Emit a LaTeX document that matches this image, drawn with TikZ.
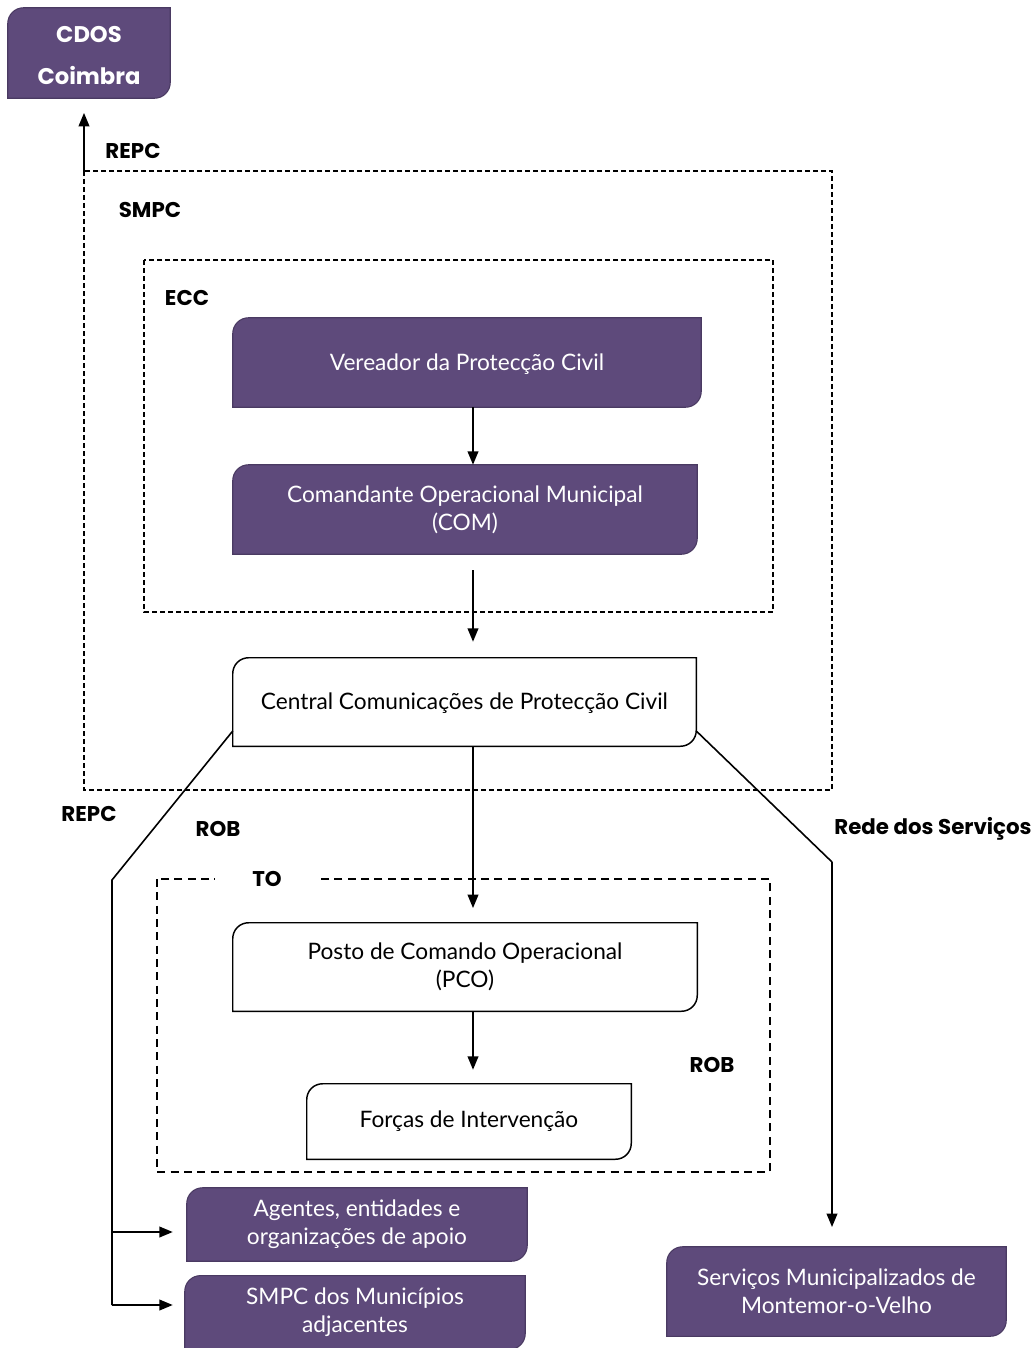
\documentclass[tikz,border=0pt]{standalone}
\usepackage{fontspec}
\setmainfont{Lato}
\newfontfamily\lblfont{Poppins}
\usetikzlibrary{arrows.meta,calc}
\definecolor{boxpurple}{HTML}{5E4A7B}
\definecolor{boxedge}{HTML}{4A3A62}
\tikzset{
  boxtext/.style={inner sep=0pt, align=center, font=\fontsize{17}{21}\selectfont},
  ptext/.style={boxtext, text=white},
  lbl/.style={font=\lblfont\bfseries\fontsize{16}{19}\selectfont, inner sep=1pt},
  frame/.style={draw, dash pattern=on 3.75pt off 2.25pt, line width=0.9pt},
  frameto/.style={draw, dash pattern=on 6pt off 4pt, line width=0.9pt},
  conn/.style={line width=1.2pt},
  arr/.style={conn, -{Triangle[length=10pt,width=8pt]}},
  snipfill/.style={fill=boxpurple, draw=boxedge, line width=0.8pt},
  snipwhite/.style={fill=white, draw=black, line width=1.1pt},
}
% x and y are in pixels, y growing downwards
\newcommand\snipshape[2]{%
  \path[#2] (#1.south west) -- ($(#1.north west)+(0,16)$)
    .. controls ($(#1.north west)+(0,7)$) and ($(#1.north west)+(7,0)$) .. ($(#1.north west)+(16,0)$)
    -- (#1.north east) -- ($(#1.south east)+(0,-16)$)
    .. controls ($(#1.south east)+(0,-7)$) and ($(#1.south east)+(-7,0)$) .. ($(#1.south east)+(-16,0)$) -- cycle;}
\begin{document}
\begin{tikzpicture}[x=0.75pt,y=-0.75pt]
\useasboundingbox (0,0) rectangle (1035,1348);
% dashed frames
\path[frame] (84,171) rectangle (832,790);
\path[frame] (144,260) rectangle (773,612);
\path[frameto] (157,879) rectangle (770,1172);
\coordinate (smpcTL) at (84,171);
\coordinate (cx) at (473,0);
% nodes (text), shapes drawn beneath
\node[minimum width=121.5pt, minimum height=67.5pt, inner sep=0pt] (cdos) at (89,53) {};
\node[minimum width=351pt, minimum height=66.75pt, inner sep=0pt] (ver) at (467,362.5) {};
\node[minimum width=348pt, minimum height=66.75pt, inner sep=0pt] (com) at (465,509.5) {};
\node[minimum width=347.25pt, minimum height=66pt, inner sep=0pt] (cen) at (464.5,702) {};
\node[minimum width=348pt, minimum height=66pt, inner sep=0pt] (pco) at (465,967) {};
\node[minimum width=243pt, minimum height=56.25pt, inner sep=0pt] (for) at (469,1121.5) {};
\node[minimum width=255pt, minimum height=54.75pt, inner sep=0pt] (age) at (357,1224.5) {};
\node[minimum width=255pt, minimum height=55pt, inner sep=0pt] (adj) at (355,1312.5) {};
\node[minimum width=254.25pt, minimum height=66.75pt, inner sep=0pt] (ser) at (836.5,1291.5) {};
\snipshape{cdos}{snipfill}
\snipshape{ver}{snipfill}
\snipshape{com}{snipfill}
\snipshape{cen}{snipwhite}
\snipshape{pco}{snipwhite}
\snipshape{for}{snipwhite}
\snipshape{age}{snipfill}
\snipshape{adj}{snipfill}
\snipshape{ser}{snipfill}
% texts
\node[lbl, text=white, align=center, font=\lblfont\bfseries\fontsize{17}{20}\selectfont] at ([yshift=-2pt]cdos.center) {CDOS\\[12pt]Coimbra};
\node[ptext] at ([yshift=-1pt]ver.center) {Vereador da Protecção Civil};
\node[ptext] at (com.center) {Comandante Operacional Municipal\\(COM)};
\node[boxtext] at ([yshift=-1pt]cen.center) {Central Comunicações de Protecção Civil};
\node[boxtext] at (pco.center) {Posto de Comando Operacional\\(PCO)};
\node[boxtext] at (for.center) {Forças de Intervenção};
\node[ptext] at (age.center) {Agentes, entidades e\\organizações de apoio};
\node[ptext] at (adj.center) {SMPC dos Municípios\\adjacentes};
\node[ptext] at (ser.center) {Serviços Municipalizados de\\Montemor-o-Velho};
% labels
\node[lbl] (l1) at (133,151) {REPC};
\node[lbl] (l2) at (150,210) {SMPC};
\node[lbl] (l3) at (187,298) {ECC};
\node[lbl] (l4) at (89,814) {REPC};
\node[lbl] (l5) at (218,829) {ROB};
\node[lbl] (l6) at (933,829) {Rede dos Serviços};
\node[lbl, fill=white, inner xsep=28pt] (l7) at (267,879) {TO};
\node[lbl] (l8) at (712,1065) {ROB};
% connectors
\draw[arr] (smpcTL) -- ([yshift=-11pt]cdos.south -| smpcTL);
\draw[arr] (cx |- ver.south) -- (cx |- com.north);
\draw[arr] ([yshift=-12pt]cx |- com.south) -- ([yshift=12pt]cx |- cen.north);
\draw[arr] (cx |- cen.south) -- ([yshift=11pt]cx |- pco.north);
\draw[arr] (cx |- pco.south) -- ([yshift=10.5pt]cx |- for.north);
\coordinate (lbend) at (112,880);
\coordinate (la) at (112,1232);
\coordinate (lb) at (112,1305);
\coordinate (rbend) at (832,862);
\coordinate (rend) at (832,1227);
\draw[conn] ($(cen.west)+(0,29)$) -- (lbend) -- (lb);
\draw[arr] (la) -- ($(la -| age.west)+(-14,0)$);
\draw[arr] (lb) -- ($(lb -| adj.west)+(-12,0)$);
\draw[conn] ($(cen.east)+(0,29)$) -- (rbend);
\draw[arr] (rbend) -- (rend);
\end{tikzpicture}
\end{document}
